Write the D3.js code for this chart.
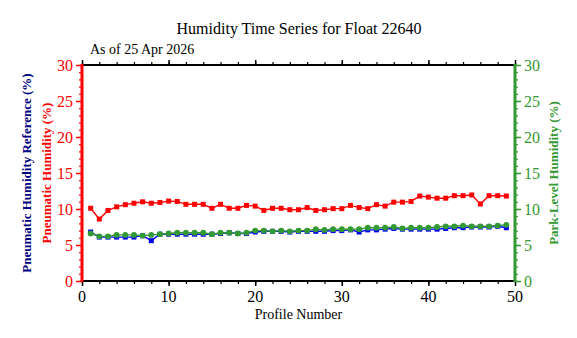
<!DOCTYPE html>
<html>
<head>
<meta charset="utf-8">
<script src="https://cdn.jsdelivr.net/npm/d3@7"></script>
<style>
  html, body { margin: 0; padding: 0; background: #fff; overflow: hidden; }
  svg { display: block; }
  svg text { font-family: "Liberation Serif", "Times New Roman", serif; }
</style>
</head>
<body>
<div id="chart"></div>
<script>
//profile numbers
const profiles = d3.range(1, 50);

//pneumatic humidity (red)
const pneumatic = [
  10.1, 8.6, 9.8, 10.3, 10.6, 10.8, 11.0, 10.8, 10.9, 11.1,
  11.05, 10.65, 10.65, 10.65, 10.1, 10.65, 10.1, 10.1, 10.5, 10.4,
  9.8, 10.1, 10.1, 9.9, 9.9, 10.2, 9.8, 9.9, 10.05, 10.05,
  10.5, 10.2, 10.05, 10.6, 10.4, 10.95, 10.95, 11.05, 11.8, 11.65,
  11.5, 11.5, 11.85, 11.85, 11.95, 10.7, 11.85, 11.85, 11.8,
];

//pneumatic humidity reference (blue)
const reference = [
  6.8, 6.1, 6.1, 6.1, 6.1, 6.1, 6.3, 5.6, 6.5, 6.5,
  6.5, 6.5, 6.5, 6.5, 6.5, 6.6, 6.7, 6.6, 6.6, 6.8,
  6.9, 6.9, 6.9, 6.8, 6.9, 6.9, 6.9, 6.9, 7.0, 7.0,
  7.1, 6.8, 7.1, 7.1, 7.2, 7.3, 7.2, 7.2, 7.2, 7.2,
  7.2, 7.3, 7.4, 7.4, 7.5, 7.5, 7.5, 7.6, 7.4,
];

//park-level humidity (green)
const parkLevel = [
  6.6, 6.2, 6.2, 6.4, 6.4, 6.4, 6.3, 6.4, 6.5, 6.6,
  6.7, 6.7, 6.7, 6.7, 6.5, 6.7, 6.7, 6.6, 6.7, 7.0,
  7.0, 6.9, 7.0, 6.9, 7.0, 7.0, 7.2, 7.1, 7.2, 7.2,
  7.2, 7.2, 7.4, 7.4, 7.4, 7.5, 7.3, 7.4, 7.4, 7.4,
  7.5, 7.6, 7.6, 7.7, 7.6, 7.6, 7.6, 7.7, 7.8,
];

const yTicks = [0, 5, 10, 15, 20, 25, 30];
const xTicks = [0, 10, 20, 30, 40, 50];

//size
const width = 577;
const height = 338;
const margin = { top: 65, right: 62, bottom: 57, left: 82 };
const innerWidth = width - margin.left - margin.right;
const innerHeight = height - margin.top - margin.bottom;

const serif = '"Liberation Serif", "Times New Roman", serif';
const red = "#ff0000";
const blue = "#0000ff";
const green = "#339933";

const x = d3.scaleLinear().domain([0, 50]).range([0, innerWidth]);
const y = d3.scaleLinear().domain([0, 30]).range([innerHeight, 0]);

const svg = d3
  .select("#chart")
  .append("svg")
  .attr("width", width)
  .attr("height", height)
  .attr("font-family", serif);

//title
svg
  .append("text")
  .attr("x", 299)
  .attr("y", 34)
  .attr("text-anchor", "middle")
  .attr("font-size", 16)
  .text("Humidity Time Series for Float 22640");

svg
  .append("text")
  .attr("x", 90)
  .attr("y", 54)
  .attr("font-size", 14)
  .text("As of 25 Apr 2026");

const g = svg
  .append("g")
  .attr("transform", `translate(${margin.left},${margin.top})`);

//tick marks only, the labels are drawn below
function ticks(axis, transform, colour, width) {
  g.append("g")
    .attr("transform", transform)
    .call(axis.tickFormat(""))
    .call((a) => a.select(".domain").remove())
    .call((a) => a.selectAll("text").remove())
    .call((a) => a.selectAll("line").attr("stroke", colour).attr("stroke-width", width));
}

//x axes
const bottom = `translate(0,${innerHeight})`;
ticks(d3.axisBottom(x).tickValues(d3.range(0, 51, 2)).tickSize(3), bottom, "#000", 1.2);
ticks(d3.axisBottom(x).tickValues(xTicks).tickSize(5), bottom, "#000", 1.5);
ticks(d3.axisTop(x).tickValues(d3.range(0, 51, 2)).tickSize(3), null, "#000", 1.2);
ticks(d3.axisTop(x).tickValues(xTicks).tickSize(5), null, "#000", 1.5);

[0, innerHeight].forEach((ly) => {
  g.append("line")
    .attr("x1", 0)
    .attr("x2", innerWidth)
    .attr("y1", ly)
    .attr("y2", ly)
    .attr("stroke", "#000")
    .attr("stroke-width", 2);
});

g.selectAll("text.xtick")
  .data(xTicks)
  .join("text")
  .attr("class", "xtick")
  .attr("x", (d) => x(d))
  .attr("y", innerHeight + 21)
  .attr("text-anchor", "middle")
  .attr("font-size", 16)
  .text((d) => d);

//y axes
function yAxis(axisFn, tx, colour, side) {
  const t = `translate(${tx},0)`;
  ticks(axisFn(y).tickValues(d3.range(0, 31, 1)).tickSize(3), t, colour, 1.2);
  ticks(axisFn(y).tickValues(yTicks).tickSize(6), t, colour, 1.5);

  g.append("line")
    .attr("x1", tx)
    .attr("x2", tx)
    .attr("y1", -1)
    .attr("y2", innerHeight + 1)
    .attr("stroke", colour)
    .attr("stroke-width", 3);

  g.selectAll(null)
    .data(yTicks)
    .join("text")
    .attr("x", tx + side * 9)
    .attr("y", (d) => y(d) + 5.5)
    .attr("text-anchor", side < 0 ? "end" : "start")
    .attr("font-size", 16)
    .attr("fill", colour)
    .text((d) => d);
}

yAxis(d3.axisLeft, 0, red, -1);
yAxis(d3.axisRight, innerWidth, green, 1);

//axis labels
svg
  .append("text")
  .attr("x", margin.left + innerWidth / 2)
  .attr("y", 319)
  .attr("text-anchor", "middle")
  .attr("font-size", 14)
  .text("Profile Number");

function yLabel(text, lx, colour) {
  svg
    .append("text")
    .attr("transform", `translate(${lx},${margin.top + innerHeight / 2}) rotate(-90)`)
    .attr("text-anchor", "middle")
    .attr("font-size", 13)
    .attr("font-weight", "bold")
    .attr("fill", colour)
    .text(text);
}

yLabel("Pneumatic Humidity Reference (%)", 31, "#000080");
yLabel("Pneumatic Humidity (%)", 51, red);
yLabel("Park-Level Humidity (%)", 558, green);

//series
const series = [
  { values: reference, colour: blue, shape: "square" },
  { values: parkLevel, colour: green, shape: "circle" },
  { values: pneumatic, colour: red, shape: "square" },
];

const line = d3
  .line()
  .x((d) => x(d[0]))
  .y((d) => y(d[1]));

series.forEach((s) => {
  const pts = profiles.map((p, i) => [p, s.values[i]]);

  g.append("path")
    .datum(pts)
    .attr("fill", "none")
    .attr("stroke", s.colour)
    .attr("stroke-width", 1.4)
    .attr("d", line);

  if (s.shape == "square") {
    g.selectAll(null)
      .data(pts)
      .join("rect")
      .attr("x", (d) => x(d[0]) - 2.5)
      .attr("y", (d) => y(d[1]) - 2.5)
      .attr("width", 5)
      .attr("height", 5)
      .attr("fill", s.colour);
  } else {
    g.selectAll(null)
      .data(pts)
      .join("circle")
      .attr("cx", (d) => x(d[0]))
      .attr("cy", (d) => y(d[1]))
      .attr("r", 2.9)
      .attr("fill", s.colour);
  }
});
</script>
</body>
</html>
